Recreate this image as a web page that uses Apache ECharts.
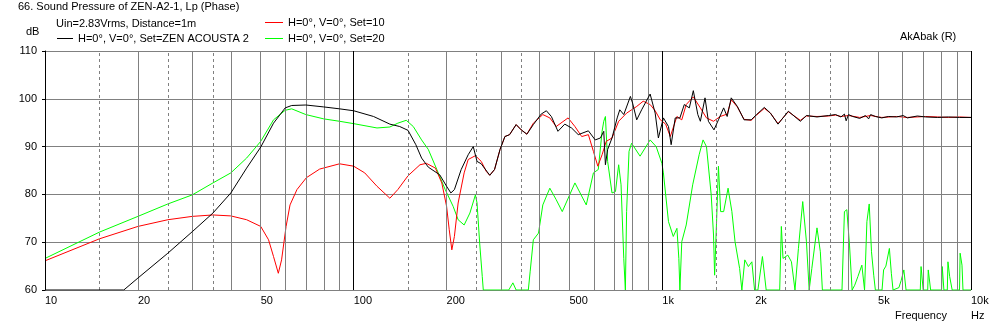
<!DOCTYPE html>
<html>
<head>
<meta charset="utf-8">
<script src="https://cdn.jsdelivr.net/npm/echarts@6/dist/echarts.min.js"></script>
<style>
html, body { margin: 0; padding: 0; background: #fff; }
#main { width: 995px; height: 328px; }
</style>
</head>
<body>
<div id="main"></div>
<script>
// Set=ZEN ACOUSTA 2 (black)
var blackFreq = [10, 18, 20, 25, 30, 35, 40, 45, 50, 55, 60, 63, 70, 80, 90, 100, 116, 131, 141, 150, 159, 166, 174.5, 190, 200, 206.5, 212, 223, 235, 244, 251, 259, 276, 286, 298, 309, 320, 336, 349, 364, 382, 405, 421, 437, 459, 483, 508, 534, 576, 606, 630, 646, 654, 665, 687, 714, 728, 750, 788, 801, 826, 857, 913, 948, 971, 1008, 1047, 1068, 1101, 1140, 1178, 1223, 1260, 1303, 1328, 1375, 1410, 1470, 1520, 1580, 1622, 1672, 1750, 1840, 1940, 2020, 2140, 2240, 2370, 2560, 2800, 2930, 3170, 3460, 3640, 3790, 3890, 3940, 4010, 4140, 4360, 4550, 4660, 4730, 4900, 5140, 5400, 5740, 6030, 6220, 6700, 7130, 7800, 8450, 9170, 10000];
var blackDb = [60, 60, 62.5, 67.7, 72.2, 76.1, 80.3, 85.5, 89.9, 94.9, 98.1, 98.6, 98.7, 98.3, 97.9, 97.5, 96.3, 94.7, 94.2, 93.4, 90.4, 87.6, 85.7, 84.1, 81.7, 80.3, 81.0, 85.2, 88.3, 90.0, 86.9, 86.4, 84.0, 85.2, 89.4, 92.1, 92.5, 94.6, 93.5, 92.6, 94.6, 96.8, 97.5, 96.3, 93.2, 94.7, 93.9, 92.5, 93.3, 91.4, 91.8, 93.2, 86.2, 89.4, 91.8, 96.0, 97.7, 96.7, 100.5, 99.1, 95.6, 97.7, 101.0, 97.0, 91.8, 96.0, 94.2, 90.4, 96.0, 96.0, 98.8, 98.1, 101.7, 96.7, 95.3, 100.2, 95.3, 93.5, 95.6, 98.1, 96.3, 100.2, 98.4, 95.6, 95.6, 96.7, 98.2, 97.0, 94.7, 97.4, 95.3, 96.5, 96.2, 96.5, 96.7, 96.2, 96.8, 95.4, 96.7, 96.3, 95.9, 96.5, 95.8, 96.7, 96.3, 96.0, 96.3, 96.2, 96.5, 96.0, 96.4, 96.2, 96.1, 96.2, 96.1, 96.1];

// Set=10 (red)
var redFreq = [10, 15, 20, 25, 30, 35, 40, 45, 50, 53, 55, 57, 58.4, 60.4, 62.2, 65.5, 70.3, 77.6, 90, 100, 108.6, 119, 131, 139, 150, 164, 172, 184, 193, 200, 204, 208, 212, 218, 228, 235, 248, 259, 269, 276, 286, 298, 309, 320, 336, 349, 364, 382, 410, 432, 453, 495, 521, 548, 576, 598, 618, 638, 658, 687, 722, 766, 826, 867, 913, 948, 985, 1025, 1061, 1115, 1156, 1195, 1260, 1328, 1390, 1465, 1540, 1622, 1672, 1750, 1840, 1940, 2020, 2140, 2240, 2370, 2560, 2800, 2930, 3170, 3460, 3640, 3790, 4010, 4360, 4730, 5140, 5740, 6220, 7130, 7800, 8450, 9170, 10000];
var redDb = [66.1, 70.7, 73.3, 74.7, 75.4, 75.7, 75.5, 74.7, 73.3, 70.5, 67.0, 63.5, 66.3, 73.3, 77.8, 81.0, 83.5, 85.3, 86.4, 85.9, 84.5, 81.7, 79.2, 81.0, 83.9, 86.2, 86.5, 85.5, 82.4, 77.5, 72.6, 68.4, 71.2, 78.2, 84.5, 87.3, 88.1, 86.9, 84.8, 84.0, 85.2, 89.4, 92.1, 92.5, 94.6, 93.5, 92.6, 94.9, 96.7, 96.0, 94.2, 96.0, 94.2, 92.1, 92.5, 89.0, 85.9, 88.3, 91.1, 91.8, 95.3, 97.0, 98.4, 99.5, 98.8, 97.5, 95.6, 94.7, 92.1, 96.3, 95.6, 98.8, 100.4, 98.1, 96.0, 95.3, 96.3, 96.8, 99.8, 98.3, 95.7, 95.5, 96.6, 98.0, 97.0, 94.8, 97.3, 95.5, 96.4, 96.3, 96.4, 96.6, 96.3, 96.5, 96.1, 96.5, 96.1, 96.3, 96.1, 96.3, 96.2, 96.1, 96.2, 96.1];

// Set=20 (green)
var greenFreq = [10, 15, 20, 25, 30, 35, 40, 45, 50, 55, 60, 63, 70, 80, 90, 100, 119, 131, 139, 148, 156, 166, 174.5, 186, 198, 210, 218, 228, 238, 248, 251, 256, 261, 263, 318, 328, 336, 368, 373, 382, 397, 410, 432, 453, 474, 521, 567, 598, 620, 638, 646, 654, 665, 687, 705, 722, 735, 750, 759, 766, 780, 795, 847, 913, 955, 997, 1008, 1047, 1085, 1115, 1131, 1140, 1156, 1195, 1254, 1316, 1355, 1390, 1440, 1465, 1477, 1500, 1520, 1545, 1580, 1633, 1680, 1720, 1780, 1810, 1850, 1900, 1950, 1990, 2040, 2110, 2170, 2400, 2430, 2460, 2550, 2620, 2690, 2760, 2850, 2930, 2990, 3050, 3170, 3250, 3300, 3820, 3890, 3960, 4040, 4120, 4200, 4300, 4430, 4520, 4600, 4680, 4760, 4840, 4900, 5150, 5210, 5300, 5440, 5520, 5590, 5840, 5940, 6060, 6160, 6850, 6890, 7000, 7240, 7270, 7400, 8030, 8070, 8170, 8380, 8420, 8530, 8690, 9180, 9220, 9350, 9420, 10000];
var greenDb = [66.6, 72.1, 75.4, 78.0, 79.9, 82.4, 84.5, 87.6, 91.1, 95.6, 97.6, 97.9, 96.7, 95.8, 95.3, 94.8, 93.9, 94.1, 94.9, 95.5, 94.2, 91.4, 89.4, 85.2, 81.0, 77.5, 74.7, 73.6, 76.1, 79.9, 78.2, 69.8, 62.8, 60, 60, 61.5, 60, 60, 63.8, 70.5, 71.9, 77.8, 81.3, 78.9, 76.4, 82.4, 77.8, 84.5, 85.2, 93.2, 95.3, 96.3, 86.9, 80.3, 80.6, 86.2, 82.0, 66.6, 60, 76.4, 89.0, 90.7, 88.0, 91.4, 90.0, 86.5, 84.5, 74.3, 71.2, 72.9, 66.6, 60, 70.1, 73.6, 82.0, 88.3, 91.4, 90.0, 79.9, 71.5, 63.1, 75.0, 85.9, 76.4, 76.4, 81.3, 76.4, 70.1, 64.5, 60, 66.3, 64.9, 65.9, 60, 60, 67.0, 60, 60, 73.3, 66.6, 67.3, 65.9, 60, 68.7, 78.5, 70.1, 60, 64.5, 73.0, 68.0, 60, 60, 76.4, 76.8, 69.4, 60, 61, 62.8, 65.2, 60, 74.3, 78.0, 68.0, 63.1, 60, 60, 64.2, 65.0, 68.7, 63.5, 60, 60.5, 62, 64.2, 60, 60, 64.9, 60, 60, 64.2, 60, 60, 64.9, 60, 60, 65.9, 62.8, 60, 60, 67.7, 65.2, 60, 60];

// grid lines: decade multipliers
var decades = [10, 100, 1000];
var solidSteps = [2, 3, 4, 5, 6, 7, 8, 9];
var dashSteps = [1.5, 2.5, 3.5];
var labelSteps = [1, 2, 5];

var nameBlack = 'H=0°, V=0°, Set=ZEN ACOUSTA 2';
var nameRed = 'H=0°, V=0°, Set=10';
var nameGreen = 'H=0°, V=0°, Set=20';

function pairs(freq, db) {
	var out = [];
	for (var i = 0; i < freq.length; i++) {
		out.push([freq[i], db[i]]);
	}
	return out;
}

function freqLabel(f) {
	return f >= 1000 ? (f / 1000) + 'k' : String(f);
}

var gray = '#808080';
var font = 'Liberation Sans, Arial, sans-serif';

// vertical grid lines + x labels, drawn as markLines on a log axis
var vLines = [];
function addLine(f, color, type, withLabel) {
	vLines.push({
		xAxis: f,
		lineStyle: { color: color, type: type, width: 1 },
		label: {
			show: withLabel,
			formatter: freqLabel(f),
			position: 'start',
			align: 'left',
			distance: 5,
			color: '#000',
			fontSize: 11,
			fontFamily: font
		}
	});
}
for (var d = 0; d < decades.length; d++) {
	var dec = decades[d];
	addLine(dec, '#000', 'solid', true);
	for (var s = 0; s < solidSteps.length; s++) {
		addLine(dec * solidSteps[s], gray, 'solid', labelSteps.indexOf(solidSteps[s]) >= 0);
	}
	for (var s = 0; s < dashSteps.length; s++) {
		addLine(dec * dashSteps[s], gray, [3, 3], false);
	}
}
addLine(10000, '#000', 'solid', true);

function legendAt(left, top, width, name, color) {
	return {
		left: left, top: top, padding: 0, itemWidth: width, itemHeight: 1, icon: 'rect',
		selectedMode: false,
		data: [{ name: name, itemStyle: { color: color } }],
		textStyle: { color: '#000', fontSize: 11, fontFamily: font }
	};
}

var myChart = echarts.init(document.getElementById('main'));
var option = {
	animation: false,
	backgroundColor: '#fff',
	textStyle: { fontFamily: font },
	grid: { left: 45, right: 24, top: 51, bottom: 38 },
	legend: [
		legendAt(57, 33, 16, nameBlack, '#000000'),
		legendAt(265, 17, 18, nameRed, '#ff0000'),
		legendAt(265, 33, 18, nameGreen, '#00ff00')
	],
	graphic: [
		{ type: 'text', left: 18, top: 1, style: { text: '66. Sound Pressure of ZEN-A2-1, Lp (Phase)', fill: '#000', font: '11px ' + font } },
		{ type: 'text', left: 56, top: 18, style: { text: 'Uin=2.83Vrms, Distance=1m', fill: '#000', font: '11px ' + font } },
		{ type: 'text', left: 26, top: 26, style: { text: 'dB', fill: '#000', font: '11px ' + font } },
		{ type: 'text', left: 900, top: 31, style: { text: 'AkAbak (R)', fill: '#000', font: '11px ' + font } },
		{ type: 'text', left: 895, top: 310, style: { text: 'Frequency', fill: '#000', font: '11px ' + font } },
		{ type: 'text', left: 971, top: 310, style: { text: 'Hz', fill: '#000', font: '11px ' + font } }
	],
	xAxis: {
		type: 'log',
		logBase: 10,
		min: 10,
		max: 10000,
		axisLine: { show: false },
		axisTick: { show: false },
		axisLabel: { show: false },
		splitLine: { show: false }
	},
	yAxis: {
		type: 'value',
		min: 60,
		max: 110,
		interval: 10,
		axisLine: { show: true, lineStyle: { color: '#000', width: 1 } },
		axisTick: { show: true, length: 3, lineStyle: { color: '#000' } },
		axisLabel: { margin: 8, color: '#000', fontSize: 11, fontFamily: font },
		splitLine: { show: true, lineStyle: { color: gray, width: 1 } }
	},
	series: [{
		name: 'grid',
		type: 'line',
		data: [],
		z: 1,
		silent: true,
		markLine: { silent: true, symbol: ['none', 'none'], animation: false, data: vLines }
	}, {
		name: nameGreen,
		type: 'line',
		z: 3,
		showSymbol: false,
		symbol: 'none',
		color: '#00ff00',
		lineStyle: { width: 1, color: '#00ff00' },
		data: pairs(greenFreq, greenDb)
	}, {
		name: nameRed,
		type: 'line',
		z: 4,
		showSymbol: false,
		symbol: 'none',
		color: '#ff0000',
		lineStyle: { width: 1, color: '#ff0000' },
		data: pairs(redFreq, redDb)
	}, {
		name: nameBlack,
		type: 'line',
		z: 5,
		showSymbol: false,
		symbol: 'none',
		color: '#000000',
		lineStyle: { width: 1, color: '#000000' },
		data: pairs(blackFreq, blackDb)
	}]
};
myChart.setOption(option);
</script>
</body>
</html>
